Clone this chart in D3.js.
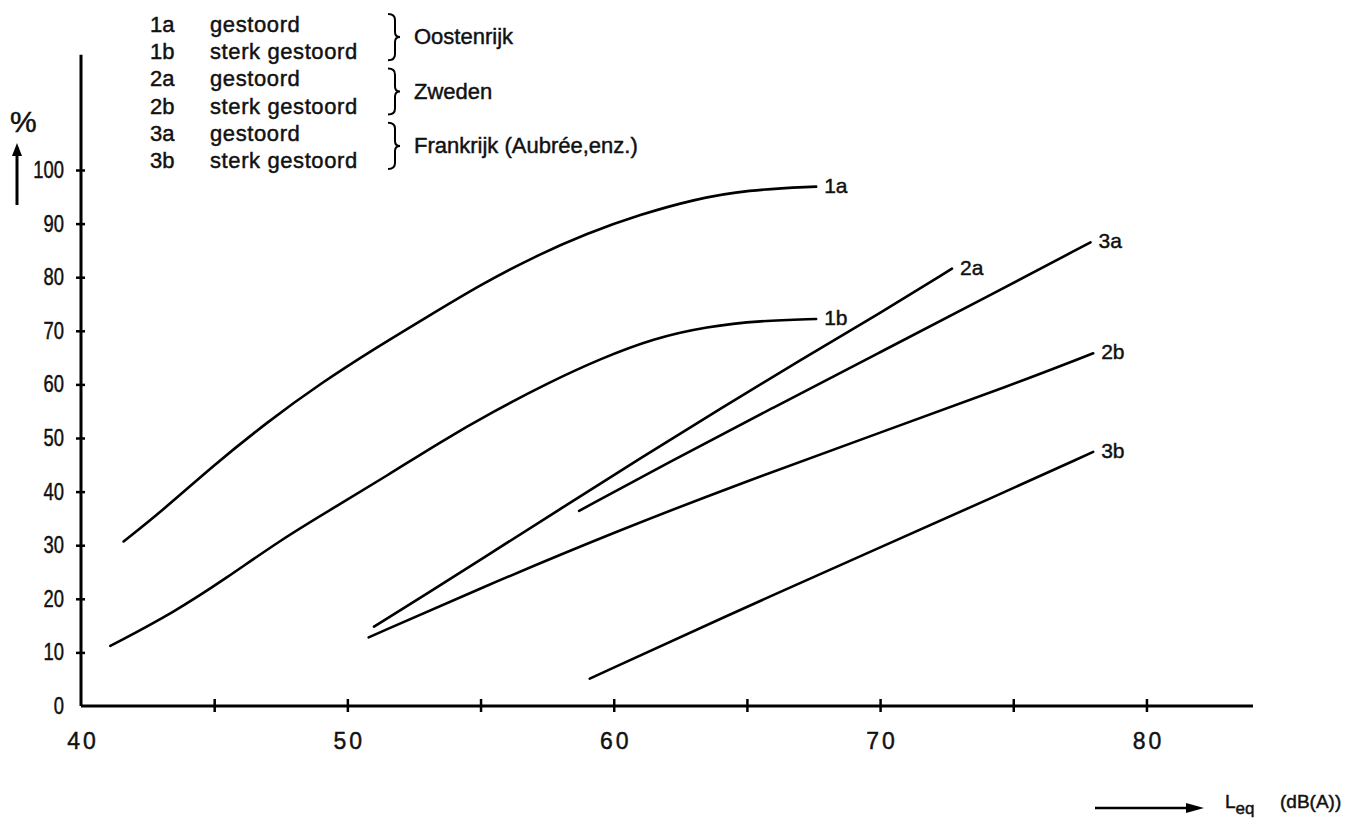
<!DOCTYPE html>
<html>
<head>
<meta charset="utf-8">
<script src="https://cdn.jsdelivr.net/npm/d3@7"></script>
<style>
  body { margin: 0; background: #fff; }
  text { font-family: "Liberation Sans", Arial, sans-serif; fill: #111; stroke: #111; stroke-width: 0.45px; }
</style>
</head>
<body>
<div id="contenedor"></div>
<script>
// data
var s1a = [[41.6,30.7],[43,36.2],[45,45],[47,53],[49,60.2],[51,66.6],[53,72.6],[55,78.6],[57,83.8],[59,88.2],[61,91.7],[63,94.5],[65,96.3],[67.6,96.9]]
var s1b = [[41.1,11.2],[43.5,17.5],[45.5,24],[47.5,31],[49.5,37],[51.5,43],[53.5,49.3],[55.5,55],[57.5,60.2],[59.5,64.8],[61.5,68.6],[63.5,70.8],[65.5,71.9],[67.6,72.2]]
var s2a = [[51,14.8],[53,21],[55,27.3],[58,36.8],[61,46.2],[64,55.5],[67,64.5],[70,73.3],[72.7,81.6]]
var s2b = [[50.8,12.8],[55,22],[60,32.4],[65,42],[70,51],[75,60],[78,65.8]]
var s3a = [[58.7,36.4],[62,45.3],[66,55.7],[70,66],[74,76.3],[77.9,86.5]]
var s3b = [[59.1,5.1],[64,16.3],[70,29.6],[74,38.4],[78,47.4]]

var curveNames = ["1a","1b","2a","2b","3a","3b"]
var curves = [s1a, s1b, s2a, s2b, s3a, s3b]

var legendCodes = ["1a","1b","2a","2b","3a","3b"]
var legendTexts = ["gestoord","sterk gestoord","gestoord","sterk gestoord","gestoord","sterk gestoord"]
var countries = ["Oostenrijk","Zweden","Frankrijk (Aubrée,enz.)"]

var xTicks = [45,50,55,60,65,70,75,80]
var xLabels = [40,50,60,70,80]
var yTicks = [10,20,30,40,50,60,70,80,90,100]
var yLabels = [0,10,20,30,40,50,60,70,80,90,100]

var ancho = 1364, alto = 819

var svg = d3.select("#contenedor").append("svg")
    .attr("width", ancho)
    .attr("height", alto)

// ESCALAS
var x = d3.scaleLinear().domain([40, 84]).range([81, 1253])
var y = d3.scaleLinear().domain([0, 100]).range([706, 170])

// ejes
svg.append("line")
    .attr("x1", x(40)).attr("x2", x(40))
    .attr("y1", y(0)).attr("y2", y(121.5))
    .attr("stroke", "#000").attr("stroke-width", 3)
svg.append("line")
    .attr("x1", x(40)).attr("x2", x(84))
    .attr("y1", y(0)).attr("y2", y(0))
    .attr("stroke", "#000").attr("stroke-width", 3)

var ejeY = svg.append("g").attr("transform", "translate(" + x(40) + ",0)")
    .call(d3.axisLeft(y).tickValues(yTicks).tickSize(5).tickFormat(""))
ejeY.select(".domain").remove()
ejeY.selectAll(".tick line").attr("x1", 4).attr("stroke-width", 2.5)

var ejeX = svg.append("g").attr("transform", "translate(0," + y(0) + ")")
    .call(d3.axisBottom(x).tickValues(xTicks).tickSize(6).tickFormat(""))
ejeX.select(".domain").remove()
ejeX.selectAll(".tick line").attr("y1", -7).attr("stroke-width", 2.5)

// tick labels
svg.selectAll(".ylab").data(yLabels).enter().append("g")
    .attr("transform", function(d) { return "translate(64," + (y(d) + 8) + ") scale(0.8,1)" })
    .append("text")
    .attr("text-anchor", "end")
    .style("font-size", "23px")
    .text(function(d) { return d })

svg.selectAll(".xlab").data(xLabels).enter().append("text")
    .attr("x", function(d) { return x(d) + 2 })
    .attr("y", 749)
    .attr("text-anchor", "middle")
    .style("font-size", "23px")
    .style("letter-spacing", "3px")
    .text(function(d) { return d })

// curvas
var linea = d3.line()
    .x(function(d) { return x(d[0]) })
    .y(function(d) { return y(d[1]) })
    .curve(d3.curveBasis)

svg.selectAll(".curva").data(curves).enter().append("path")
    .attr("d", linea)
    .attr("fill", "none")
    .attr("stroke", "#000")
    .attr("stroke-width", 2.6)
    .attr("stroke-linecap", "round")

svg.selectAll(".etiqueta").data(curves).enter().append("text")
    .attr("x", function(d) { var p = d[d.length - 1]; return x(p[0]) + 8 })
    .attr("y", function(d) { var p = d[d.length - 1]; return y(p[1]) + 6 })
    .style("font-size", "21px")
    .text(function(d, i) { return curveNames[i] })

// leyenda
var filaY = function(i) { return 24 + i * 27.2 }
svg.selectAll(".cod").data(legendCodes).enter().append("text")
    .attr("x", 150)
    .attr("y", function(d, i) { return filaY(i) + 8 })
    .style("font-size", "22px")
    .text(function(d) { return d })
svg.selectAll(".txt").data(legendTexts).enter().append("text")
    .attr("x", 210)
    .attr("y", function(d, i) { return filaY(i) + 8 })
    .style("font-size", "22px")
    .style("letter-spacing", "0.6px")
    .text(function(d) { return d })

countries.forEach(function(c, k) {
    var top = filaY(2 * k) - 10, bot = filaY(2 * k + 1) + 9, mid = (top + bot) / 2, bx = 388
    svg.append("path")
        .attr("d", "M" + bx + "," + top + " Q" + (bx + 7) + "," + top + " " + (bx + 7) + "," + (top + 6) +
            " L" + (bx + 7) + "," + (mid - 5) + " Q" + (bx + 7) + "," + mid + " " + (bx + 12) + "," + mid +
            " Q" + (bx + 7) + "," + mid + " " + (bx + 7) + "," + (mid + 5) +
            " L" + (bx + 7) + "," + (bot - 6) + " Q" + (bx + 7) + "," + bot + " " + bx + "," + bot)
        .attr("fill", "none").attr("stroke", "#000").attr("stroke-width", 2)
    svg.append("text")
        .attr("x", 414).attr("y", mid + 7)
        .style("font-size", "22px")
        .text(c)
})

// titulo eje y
svg.append("text").attr("x", 10).attr("y", 132).style("font-size", "30px").text("%")
svg.append("line").attr("x1", 17).attr("x2", 17).attr("y1", 205).attr("y2", 152)
    .attr("stroke", "#000").attr("stroke-width", 3)
svg.append("path").attr("d", "M12,156 L17,143 L22,156 Z").attr("fill", "#000")

// titulo eje x
svg.append("line").attr("x1", 1095).attr("x2", 1192).attr("y1", 808).attr("y2", 808)
    .attr("stroke", "#000").attr("stroke-width", 2.5)
svg.append("path").attr("d", "M1186,803 L1204,808 L1186,813 Z").attr("fill", "#000")
var leq = svg.append("text").attr("x", 1225).attr("y", 808).style("font-size", "19px")
leq.append("tspan").text("L")
leq.append("tspan").attr("dy", 6).style("font-size", "17px").text("eq")
svg.append("text").attr("x", 1280).attr("y", 808).style("font-size", "19px").text("(dB(A))")
</script>
</body>
</html>
